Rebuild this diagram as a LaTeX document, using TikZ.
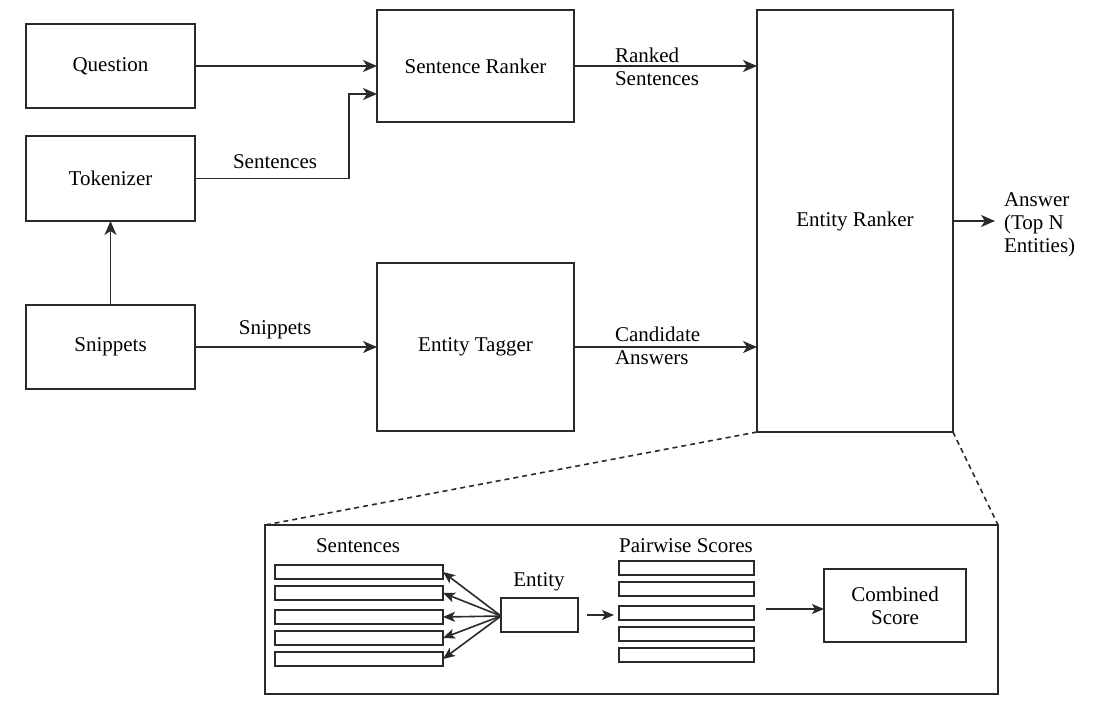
\documentclass[tikz,border=0pt]{standalone}
\usepackage{fontspec}
\setmainfont{Liberation Serif}
\usetikzlibrary{arrows.meta,positioning}
\definecolor{ln}{HTML}{2a2a2a}
\begin{document}
\begin{tikzpicture}[x=1pt,y=-1pt,
  font=\fontsize{21}{23}\selectfont,
  every node/.style={inner sep=0pt,outer sep=0pt},
  blk/.style={draw=ln,line width=1.9pt,rectangle,align=center,text=black},
  bar/.style={draw=ln,line width=1.7pt,rectangle},
  arr/.style={draw=ln,line width=1.8pt,-{Stealth[length=14pt,width=12pt,inset=4pt]}},
  sarr/.style={draw=ln,line width=1.6pt,-{Stealth[length=12pt,width=10pt,inset=3pt]}},
  lbl/.style={align=left,text=black},
  dsh/.style={draw=ln,line width=1.6pt,dash pattern=on 5pt off 4pt}]
\useasboundingbox (0,0) rectangle (1102,708);
% main blocks
\node[blk,minimum width=169pt,minimum height=84pt] (q) at (110.5,66) {Question};
\node[blk,minimum width=169pt,minimum height=85pt] (tok) at (110.5,178.5) {Tokenizer};
\node[blk,minimum width=169pt,minimum height=84pt] (snip) at (110.5,347) {Snippets};
\node[blk,minimum width=197pt,minimum height=112pt] (sr) at (475.5,66) {Sentence Ranker};
\node[blk,minimum width=197pt,minimum height=168pt] (et) at (475.5,347) {Entity Tagger};
\node[blk,minimum width=196pt,minimum height=422pt] (er) at (855,221) {Entity Ranker};
% connectors
\draw[arr] (q.east) -- (sr.west);
\coordinate (sr2) at (377,94);
\draw[arr] (tok.east) -| (349,94) -- (sr2);
\draw[arr] (snip.north) -- (tok.south);
\draw[arr] (snip.east) -- (et.west);
\draw[arr] (sr.east) -- (er.west |- sr.east);
\draw[arr] (et.east) -- (er.west |- et.east);
\coordinate (ans) at (995,221);
\draw[arr] (er.east) -- (ans);
% labels
\node (lsent) at (275,162) {Sentences};
\node (lsnip) at (275,330) {Snippets};
\node[lbl,anchor=west] (lrank) at (615,67) {Ranked\\Sentences};
\node[lbl,anchor=west] (lcand) at (615,346) {Candidate\\Answers};
\node[lbl,anchor=west] (lans) at (1004,225) {Answer\\(Top N\\Entities)};
% inset
\node[draw=ln,line width=1.9pt,rectangle,minimum width=733pt,minimum height=169pt] (ins) at (631.5,609.5) {};
\draw[dsh] (er.south west) -- (ins.north west);
\draw[dsh] (er.south east) -- (ins.north east);
\node (isent) at (358,546) {Sentences};
\node (ipair) at (686,546) {Pairwise Scores};
\foreach \i/\yy in {1/572,2/593,3/617,4/638,5/659}{
  \node[bar,minimum width=168pt,minimum height=14pt] (s\i) at (359,\yy) {};
}
\foreach \i/\yy in {1/568,2/589,3/613,4/634,5/655}{
  \node[bar,minimum width=135pt,minimum height=14pt] (p\i) at (686.5,\yy) {};
}
\node[bar,minimum width=77pt,minimum height=34pt] (ent) at (539.5,615) {};
\node (ientl) at (539,582) {Entity};
\coordinate (ec) at (501,616);
\foreach \i in {1,...,5}{
  \draw[sarr] (ec) -- (s\i.east);
}
\coordinate (a1) at (587,615);
\coordinate (a2) at (614,615);
\draw[sarr] (a1) -- (a2);
\node[bar,minimum width=142pt,minimum height=73pt,align=center] (comb) at (895,605.5) {Combined\\Score};
\coordinate (b1) at (766,609);
\draw[sarr] (b1) -- (comb.west |- b1);
\end{tikzpicture}
\end{document}
